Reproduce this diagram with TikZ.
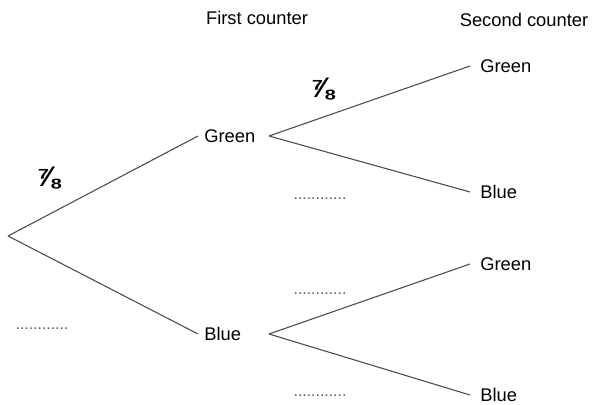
\documentclass[tikz,border=0pt]{standalone}
\usepackage{fontspec}
\setmainfont{Liberation Sans}
\usetikzlibrary{positioning}

\begin{document}
\begin{tikzpicture}[x=0.6pt, y=-0.6pt]
\tikzstyle{pick} = [anchor=west, text width=35pt, align=left, inner xsep=3.6pt, font=\fontsize{11}{13}\selectfont]
\tikzstyle{leaf} = [anchor=west, inner xsep=6pt, font=\fontsize{11}{13}\selectfont]
\tikzstyle{head} = [font=\fontsize{11}{13}\selectfont]
\tikzstyle{prob} = [font=\bfseries\fontsize{17}{19}\selectfont]
\tikzstyle{blank} = [font=\fontsize{9.5}{11}\selectfont, text=black!65]
\tikzstyle{line} = [draw, black!70, line width=0.65pt]

\useasboundingbox (0,0) rectangle (595,405);

% first counter
\coordinate (start) at (8,236);
\node [pick] (green) at (198,136) {Green};
\node [pick] (blue) at (198,334) {Blue};

% second counter
\node [leaf] (gg) at (470,66) {Green};
\node [leaf] (gb) at (470,192) {Blue};
\node [leaf] (bg) at (470,264) {Green};
\node [leaf] (bb) at (470,395) {Blue};

\node [head] (first) at (257,18) {First counter};
\node [head] (second) at (524,20) {Second counter};

\node [prob] (p1) at (48,178) {⅞};
\node [prob] (p2) at (322,89) {⅞};

\node [blank] (d1) at (42,329) {............};
\node [blank] (d2) at (320,199) {............};
\node [blank] (d3) at (320,294) {............};
\node [blank] (d4) at (320,396) {............};

\path [line] (start) -- (green.west);
\path [line] (start) -- (blue.west);
\path [line] (green.east) -- (gg.west);
\path [line] (green.east) -- (gb.west);
\path [line] (blue.east) -- (bg.west);
\path [line] (blue.east) -- (bb.west);
\end{tikzpicture}
\end{document}
